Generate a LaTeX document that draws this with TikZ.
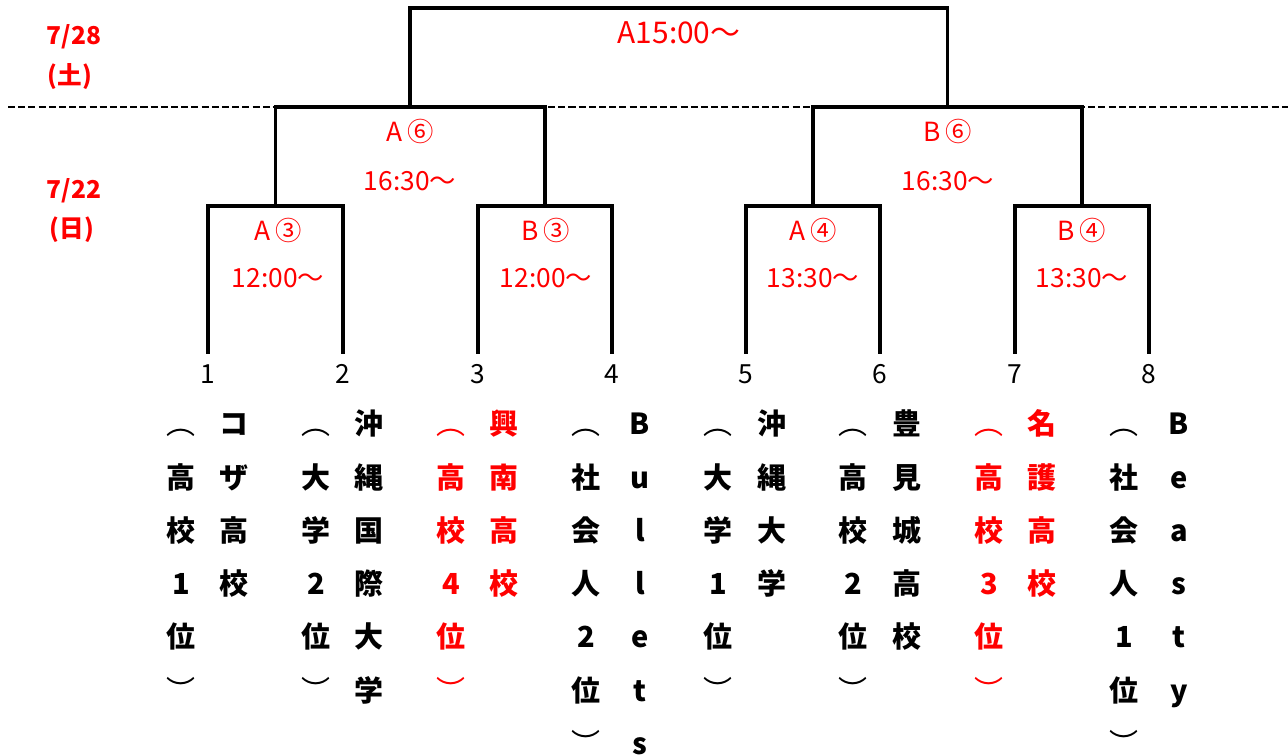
\documentclass[tikz,border=0pt]{standalone}
\usepackage{fontspec}
\setmainfont{Noto Sans CJK JP}
\usetikzlibrary{positioning}
\definecolor{mred}{rgb}{1, 0, 0}
\newcommand{\vopen}{{\mdseries ︵}}
\newcommand{\vclose}{{\mdseries ︶}}
\tikzset{bracket/.style = {line width = 2.2pt}}
\tikzset{dayline/.style = {line width = 1.6pt, dash pattern = on 4pt off 1.8pt}}
\tikzset{time/.style = {mred, inner sep = 0, font = \fontsize{15}{18}\selectfont}}
\tikzset{seed/.style = {inner sep = 0, font = \fontsize{15}{18}\selectfont}}
\tikzset{day/.style = {mred, inner sep = 0, font = \bfseries\fontsize{14}{17}\selectfont}}
\tikzset{team/.style = {anchor = base, inner sep = 0, font = \bfseries\fontsize{16.5}{20}\selectfont}}

\begin{document}
\begin{tikzpicture}[x = 0.02cm, y = -0.02cm]
      \useasboundingbox (0, 0) rectangle (1288, 756);

      % seeds
      \foreach \x [count = \n] in {208, 343, 478, 612, 746, 880, 1015, 1149} {
        \coordinate (s\n) at (\x, 354);
        \node [seed] (n\n) at (\x, 374) {\n};
      }
      \coordinate (a3) at (275.5, 206);
      \coordinate (b3) at (545, 206);
      \coordinate (a4) at (813, 206);
      \coordinate (b4) at (1082, 206);
      \coordinate (a6) at (410, 107);
      \coordinate (b6) at (947.5, 107);
      \coordinate (fin) at (678.5, 8);
      \coordinate (dl) at (8, 107);
      \coordinate (dr) at (1288, 107);

      \draw [dayline] (dl) -- (dr);
      \draw [bracket] (s1) |- (a3) -| (s2);
      \draw [bracket] (s3) |- (b3) -| (s4);
      \draw [bracket] (s5) |- (a4) -| (s6);
      \draw [bracket] (s7) |- (b4) -| (s8);
      \draw [bracket] (a3) |- (a6) -| (b3);
      \draw [bracket] (a4) |- (b6) -| (b4);
      \draw [bracket] (a6) |- (fin) -| (b6);

      % dates
      \node [day] (d1) at (74, 37) {7/28};
      \node [day] (d1w) at (70, 77) {(土)};
      \node [day] (d2) at (74, 191) {7/22};
      \node [day] (d2w) at (72, 230) {(日)};

      % match times
      \node [time, font = \fontsize{17}{20}\selectfont] (tf) at (679, 33) {A15:00〜};
      \node [time] (ta6) at (410, 131) {A\,⑥};
      \node [time] (ta6t) at (410, 181) {16:30〜};
      \node [time] (tb6) at (948, 131) {B\,⑥};
      \node [time] (tb6t) at (948, 181) {16:30〜};
      \foreach \x/\m/\t in {278/A\,③/12:00〜, 546/B\,③/12:00〜, 813/A\,④/13:30〜, 1082/B\,④/13:30〜} {
        \node [time] (t\x) at (\x, 230) {\m};
        \node [time] (h\x) at (\x, 278) {\t};
      }

      % teams
      \foreach \x/\clr/\chars [count = \n] in {
          181/black/{\vopen,高,校,1,位,\vclose}, 234/black/{コ,ザ,高,校},
          316/black/{\vopen,大,学,2,位,\vclose}, 369/black/{沖,縄,国,際,大,学},
          451/mred/{\vopen,高,校,4,位,\vclose}, 504/mred/{興,南,高,校},
          586/black/{\vopen,社,会,人,2,位,\vclose}, 640/black/{B,u,l,l,e,t,s},
          718/black/{\vopen,大,学,1,位,\vclose}, 772/black/{沖,縄,大,学},
          853/black/{\vopen,高,校,2,位,\vclose}, 907/black/{豊,見,城,高,校},
          989/mred/{\vopen,高,校,3,位,\vclose}, 1042/mred/{名,護,高,校},
          1124/black/{\vopen,社,会,人,1,位,\vclose}, 1179/black/{B,e,a,s,t,y}} {
        \foreach \c [count = \i] in \chars {
          \node [team, text = \clr] (c\n-\i) at ({\x}, {435 + 53.2 * (\i - 1)}) {\c};
        }
      }
\end{tikzpicture}
\end{document}
